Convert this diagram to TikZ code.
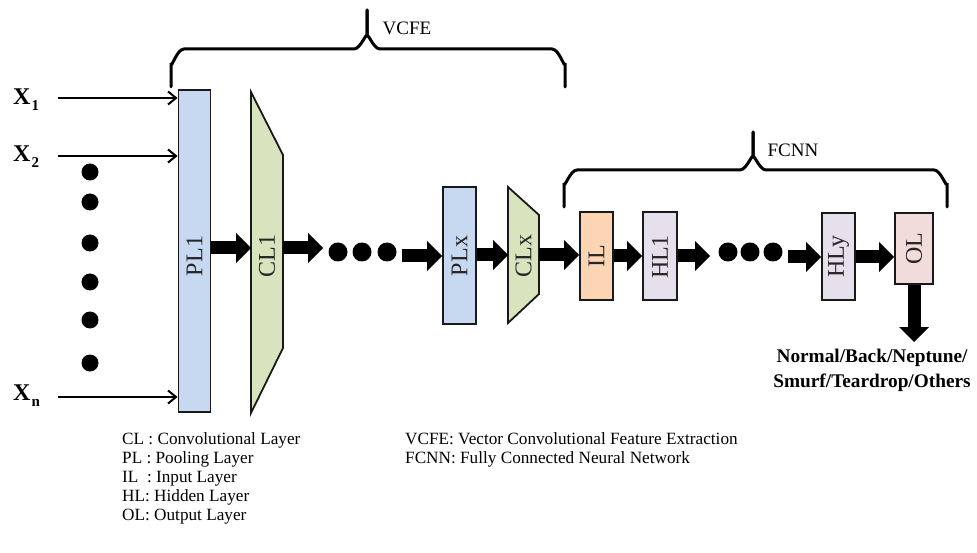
\documentclass[tikz,border=0pt]{standalone}
\usepackage{fontspec}
\setmainfont{Liberation Serif}
\usetikzlibrary{arrows.meta}
\definecolor{plblue}{RGB}{198,217,241}
\definecolor{clgreen}{RGB}{215,228,189}
\definecolor{ilorange}{RGB}{252,213,181}
\definecolor{hlpurple}{RGB}{229,224,236}
\definecolor{olpink}{RGB}{242,220,219}
\definecolor{edgecol}{RGB}{25,25,25}
\begin{document}
\begin{tikzpicture}[x=1pt,y=-1pt,
  box/.style={draw=edgecol, line width=1.8pt, inner sep=0pt},
  lyrtxt/.style={rotate=90, inner sep=0pt, font=\fontsize{24}{24}\selectfont, text=black!85},
  big/.style={line width=13pt, -{Triangle[width=30pt,length=15pt,line width=0pt]}},
  inarr/.style={line width=2pt, -{Straight Barb[length=8pt,width=13pt]}},
  dot/.style={circle, fill=black, inner sep=0pt, minimum size=19pt},
  brace/.style={line width=3pt, line cap=round},
  xlab/.style={inner sep=0pt, anchor=base west, font=\fontsize{24}{24}\selectfont\bfseries},
  legend/.style={inner sep=0pt, anchor=base west, font=\fontsize{17.2}{19}\selectfont},
  hdr/.style={inner sep=0pt, font=\fontsize{19}{19}\selectfont}
]
\useasboundingbox (0,0) rectangle (977,553);

% braces
\draw[brace] (171,87) -- (171,63) to[out=-90,in=180] (184,49) -- (354,49) to[out=0,in=90] (367,37) -- (367,10);
\draw[brace] (367,10) -- (367,37) to[out=90,in=180] (380,49) -- (552,49) to[out=0,in=-90] (565,63) -- (565,87);
\node[hdr] (vcfe) at (407,28) {VCFE};
\draw[brace] (564,207) -- (564,183) to[out=-90,in=180] (577,170) -- (740,170) to[out=0,in=90] (753,158) -- (753,132);
\draw[brace] (753,132) -- (753,158) to[out=90,in=180] (766,170) -- (934,170) to[out=0,in=-90] (947,183) -- (947,207);
\node[hdr] (fcnn) at (793,150) {FCNN};

% layers
\node[box, fill=plblue, minimum width=32pt, minimum height=322pt] (PL1) at (194.5,251) {};
\node[lyrtxt] (PL1t) at (194.5,256) {PL1};
\draw[box, fill=clgreen] (251,92) -- (283,155) -- (283,348) -- (251,413) -- cycle;
\coordinate (CL1w) at (251,248);
\coordinate (CL1e) at (283,248);
\node[lyrtxt] (CL1t) at (267,256) {CL1};

\node[box, fill=plblue, minimum width=33pt, minimum height=137pt] (PLx) at (459.5,255.5) {};
\node[lyrtxt] (PLxt) at (459.5,256) {PLx};
\draw[box, fill=clgreen] (508,187) -- (539,215) -- (539,294) -- (508,323) -- cycle;
\coordinate (CLxw) at (508,255);
\coordinate (CLxe) at (539,255);
\node[lyrtxt] (CLxt) at (523.5,256) {CLx};

\node[box, fill=ilorange, minimum width=33pt, minimum height=88pt] (IL) at (596.5,256) {};
\node[lyrtxt] (ILt) at (596.5,256) {IL};
\node[box, fill=hlpurple, minimum width=34pt, minimum height=88pt] (HL1) at (660,256) {};
\node[lyrtxt] (HL1t) at (660,257) {HL1};
\node[box, fill=hlpurple, minimum width=33pt, minimum height=87pt] (HLy) at (838.5,256.5) {};
\node[lyrtxt] (HLyt) at (838.5,256.5) {HLy};
\node[box, fill=olpink, minimum width=38pt, minimum height=71pt] (OL) at (914,248.5) {};
\node[lyrtxt] (OLt) at (914,248.5) {OL};

% inputs
\node[xlab] (X1) at (13,105) {X\kern1pt\raisebox{-6pt}{\fontsize{15}{15}\selectfont 1}};
\node[xlab] (X2) at (13,162) {X\kern1pt\raisebox{-6pt}{\fontsize{15}{15}\selectfont 2}};
\node[xlab] (Xn) at (13,400) {X\kern1pt\raisebox{-6pt}{\fontsize{15}{15}\selectfont n}};
\coordinate (s1) at (58,98);
\coordinate (s2) at (58,156);
\coordinate (sn) at (58,397);
\draw[inarr] (s1) -- (s1 -| PL1.west);
\draw[inarr] (s2) -- (s2 -| PL1.west);
\draw[inarr] (sn) -- (sn -| PL1.west);
\foreach \y [count=\i] in {172,202,243,282,320,363}
  \node[dot, minimum size=17pt] (v\i) at (90,\y) {};

% thick arrows
\draw[big] (CL1w -| PL1.east) -- (CL1w);
\coordinate (d0) at (323,248);
\draw[big] (CL1e) -- (d0);
\node[dot] (da1) at (338,252) {};
\node[dot] (da2) at (362,252) {};
\node[dot] (da3) at (387,252) {};
\coordinate (pa) at (402,256);
\draw[big] (pa) -- (pa -| PLx.west);
\draw[big] (CLxw -| PLx.east) -- (CLxw);
\draw[big] (CLxe) -- (CLxe -| IL.west);
\draw[big] (IL.east) -- (HL1.west);
\coordinate (d1) at (710,256);
\draw[big] (HL1.east) -- (d1);
\node[dot] (db1) at (728,252) {};
\node[dot] (db2) at (750,252) {};
\node[dot] (db3) at (773,252) {};
\coordinate (pb) at (788,257);
\draw[big] (pb) -- (pb -| HLy.west);
\draw[big] (pb -| HLy.east) -- (pb -| OL.west);
\coordinate (outtip) at (914,342);
\draw[big] (OL.south) -- (outtip);
\node[inner sep=0pt, align=center, font=\fontsize{19.3}{25}\selectfont\bfseries] (out) at (872,370)
  {Normal/Back/Neptune/\\Smurf/Teardrop/Others};

% legend
\node[legend] (lg1) at (122,444) {CL : Convolutional Layer};
\node[legend] (lg2) at (122,463) {PL : Pooling Layer};
\node[legend] (lg3) at (122,482) {IL\ \ : Input Layer};
\node[legend] (lg4) at (122,501) {HL: Hidden Layer};
\node[legend] (lg5) at (122,520) {OL: Output Layer};
\node[legend] (lg6) at (405,444) {VCFE: Vector Convolutional Feature Extraction};
\node[legend] (lg7) at (405,463) {FCNN: Fully Connected Neural Network};
\end{tikzpicture}
\end{document}
